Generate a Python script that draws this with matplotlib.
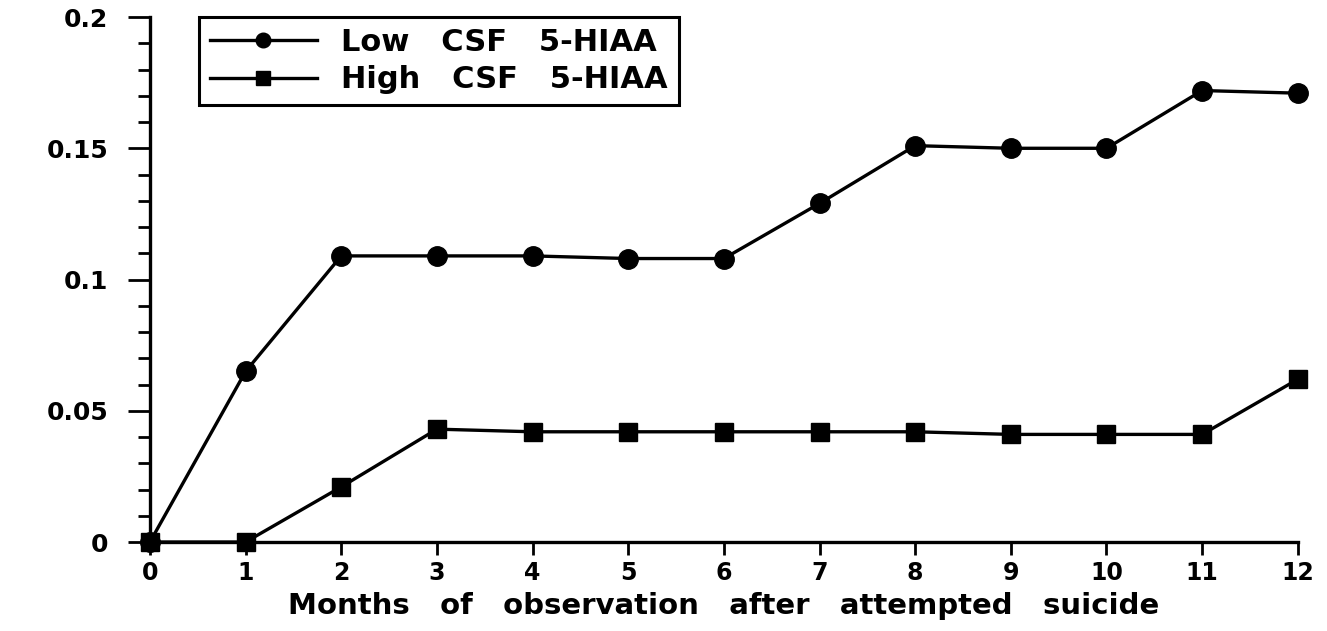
import matplotlib
matplotlib.use("Agg")
import matplotlib.pyplot as plt
from matplotlib.ticker import MultipleLocator

# months after attempted suicide
months = [0, 1, 2, 3, 4, 5, 6, 7, 8, 9, 10, 11, 12]
low_csf = [0, 0.065, 0.109, 0.109, 0.109, 0.108, 0.108, 0.129, 0.151, 0.150, 0.150, 0.172, 0.171]
high_csf = [0, 0, 0.021, 0.043, 0.042, 0.042, 0.042, 0.042, 0.042, 0.041, 0.041, 0.041, 0.062]
y_ticks = [0, 0.05, 0.1, 0.15, 0.2]
y_labels = ["0", "0.05", "0.1", "0.15", "0.2"]

plt.rcParams['font.family'] = ['DejaVu Sans']
plt.rcParams['font.weight'] = 'bold'
plt.rcParams['axes.labelweight'] = 'bold'

fig = plt.figure(figsize=(13.27, 6.31), dpi=100)
# y axis at ~150 px, x=12 at ~1298 px, y=0 at ~542 px, y=0.2 at ~17 px
ax = fig.add_axes([0.113, 0.141, 0.865, 0.832])

ax.plot(months, low_csf, color='black', lw=2.4, marker='o', ms=14,
        label='Low   CSF   5-HIAA', clip_on=False, zorder=3)
ax.plot(months, high_csf, color='black', lw=2.4, marker='s', ms=13,
        label='High   CSF   5-HIAA', clip_on=False, zorder=3)

ax.set_xlim(0, 12)
ax.set_ylim(0, 0.2)
ax.set_xticks(months)
ax.set_yticks(y_ticks)
ax.set_yticklabels(y_labels)
ax.yaxis.set_minor_locator(MultipleLocator(0.01))

for s in ['top', 'right']:
    ax.spines[s].set_visible(False)
for s in ['left', 'bottom']:
    ax.spines[s].set_linewidth(2.4)

ax.tick_params(axis='x', which='major', direction='out', length=9, width=2,
               labelsize=17, pad=5)
ax.tick_params(axis='y', which='major', direction='out', length=16, width=2,
               labelsize=18, pad=14)
ax.tick_params(axis='y', which='minor', direction='out', length=9, width=2)

ax.set_xlabel('Months   of   observation   after   attempted   suicide',
              fontsize=21, labelpad=5)

leg = ax.legend(loc='upper left', bbox_to_anchor=(0.043, 1.0), fontsize=22,
                frameon=True, fancybox=False, edgecolor='black', framealpha=1,
                handlelength=3.5, borderpad=0.35, labelspacing=0.28,
                handletextpad=0.8, markerscale=0.75, borderaxespad=0)
leg.get_frame().set_linewidth(2.2)

fig.savefig('out.png', dpi=100)
